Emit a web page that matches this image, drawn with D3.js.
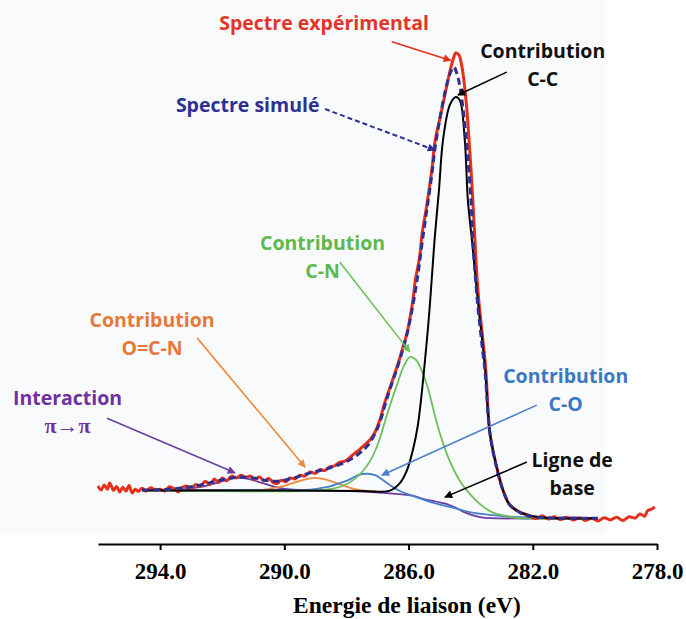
<!DOCTYPE html>
<html>
<head>
<meta charset="utf-8">
<script src="https://cdn.jsdelivr.net/npm/d3@7"></script>
<style>
  body { margin: 0; background: #fff; }
  .lbl { font-family: "Open Sans", sans-serif; font-weight: bold; font-size: 19.5px; }
  .x-axis text { font-family: "Liberation Serif", "Times New Roman", serif; font-weight: bold; font-size: 23px; fill: #000; }
  .x-title { font-family: "Liberation Serif", "Times New Roman", serif; font-weight: bold; font-size: 23.5px; }
</style>
</head>
<body>
<div id="xps-c1s"></div>
<script>
// binding energy (eV), intensity (a.u.)
var experimental = [
  [296.00, 7.3], [295.90, 6.4], [295.80, 7.5], [295.70, 6.6], [295.62, 7.9], [295.50, 6.3],
  [295.40, 7.2], [295.30, 6.0], [295.20, 7.0], [295.10, 6.2], [295.00, 7.4], [294.90, 5.8],
  [294.80, 6.6], [294.70, 6.1], [294.58, 6.8], [294.45, 6.2], [294.30, 6.9], [294.15, 6.4],
  [294.00, 6.6], [293.85, 6.2], [293.70, 7.1], [293.55, 6.7], [293.42, 6.0], [293.30, 6.9],
  [293.15, 7.3], [293.00, 6.8], [292.85, 7.6], [292.70, 7.2], [292.55, 8.3], [292.40, 7.6],
  [292.25, 8.8], [292.12, 8.0], [292.00, 9.0], [291.85, 8.4], [291.70, 9.4], [291.55, 9.0],
  [291.40, 9.6], [291.25, 9.1], [291.10, 9.4], [290.95, 8.7], [290.80, 9.2], [290.65, 8.4],
  [290.50, 8.9], [290.35, 8.0], [290.24, 7.8], [290.10, 8.5], [289.95, 8.2], [289.82, 9.0],
  [289.65, 8.8], [289.50, 9.6], [289.35, 9.4], [289.17, 10.3], [289.00, 10.0], [288.85, 10.8],
  [288.70, 10.6], [288.53, 11.4], [288.38, 11.6], [288.21, 12.4], [288.05, 12.6], [287.89, 13.4],
  [287.73, 14.3], [287.56, 15.2], [287.40, 16.2], [287.24, 17.2], [287.08, 18.8], [286.92, 21.5],
  [286.76, 25.3], [286.60, 28.3], [286.37, 32.8], [286.18, 37.0], [286.05, 40.0], [285.96, 43.0],
  [285.86, 47.1], [285.78, 51.5], [285.70, 54.2], [285.63, 57.0], [285.57, 61.0], [285.41, 67.5],
  [285.25, 75.0], [285.15, 81.0], [284.99, 86.0], [284.83, 91.0], [284.67, 96.0], [284.57, 98.5],
  [284.48, 100.0], [284.38, 99.6], [284.28, 97.0], [284.15, 89.9], [284.03, 79.2], [283.93, 68.5],
  [283.83, 55.7], [283.74, 47.1], [283.52, 32.8], [283.38, 18.6], [283.16, 11.3], [282.96, 6.4],
  [282.74, 3.2], [282.42, 1.7], [282.10, 0.9], [281.90, 0.3], [281.70, 0.9], [281.50, 0.2],
  [281.30, 0.7], [281.10, 0.1], [280.90, 0.6], [280.70, 0.0], [280.50, 0.5], [280.30, -0.1],
  [280.10, 0.4], [279.90, -0.2], [279.70, 0.5], [279.50, 0.0], [279.30, 0.6], [279.10, -0.1],
  [278.90, 0.7], [278.70, 0.4], [278.55, 1.3], [278.40, 0.8], [278.30, 2.0], [278.15, 2.4],
  [278.07, 2.8]
];

var simulated = [
  [294.58, 6.4], [294.00, 6.5], [293.50, 6.7], [293.00, 7.1], [292.50, 7.8], [292.00, 8.6],
  [291.49, 9.2], [291.00, 9.0], [290.60, 8.5], [290.24, 8.3], [289.82, 8.8], [289.50, 9.4],
  [289.17, 10.1], [288.85, 10.6], [288.53, 11.2], [288.21, 11.9], [287.89, 12.9], [287.56, 14.4],
  [287.31, 16.0], [287.08, 18.5], [286.92, 21.0], [286.76, 24.6], [286.60, 28.0], [286.37, 32.5],
  [286.18, 36.6], [286.05, 39.8], [285.86, 46.0], [285.70, 52.5], [285.57, 59.0], [285.41, 66.5],
  [285.25, 74.0], [285.15, 79.5], [284.99, 86.0], [284.83, 91.5], [284.67, 95.5], [284.54, 97.0],
  [284.44, 95.5], [284.35, 93.0], [284.28, 89.9], [284.15, 82.0], [283.99, 68.5], [283.93, 60.0],
  [283.80, 48.0], [283.61, 36.0], [283.54, 32.0], [283.38, 18.6], [283.16, 11.0], [282.96, 6.4],
  [282.74, 3.3], [282.42, 1.6], [282.10, 0.8], [281.50, 0.5], [280.50, 0.4], [279.91, 0.4]
];

var contribCC = [
  [294.58, 6.3], [290.00, 6.3], [287.50, 6.2], [286.60, 6.3], [286.28, 7.9], [286.05, 10.7],
  [285.86, 15.0], [285.70, 20.3], [285.38, 40.7], [285.15, 61.0], [285.02, 70.7], [284.89, 81.4],
  [284.67, 88.9], [284.48, 90.6], [284.35, 89.9], [284.19, 81.4], [284.09, 68.5], [283.96, 60.0],
  [283.77, 47.1], [283.54, 32.8], [283.38, 18.6], [283.16, 11.3], [282.96, 6.4], [282.74, 3.2],
  [282.42, 1.7], [281.77, 0.6], [279.91, 0.4]
];

var contribCN = [
  [294.58, 6.4], [289.50, 6.2], [288.53, 6.6], [288.05, 7.5], [287.73, 8.8], [287.47, 10.5],
  [287.24, 12.6], [287.05, 15.2], [286.89, 18.2], [286.73, 21.8], [286.54, 25.7], [286.34, 29.6],
  [286.15, 33.0], [285.96, 34.9], [285.76, 34.3], [285.57, 31.9], [285.38, 28.3], [285.22, 24.2],
  [285.06, 20.1], [284.89, 16.5], [284.73, 13.5], [284.54, 10.7], [284.32, 8.1], [284.03, 5.6],
  [283.70, 3.4], [283.32, 1.7], [282.90, 0.9], [282.42, 0.4], [279.91, 0.4]
];

var contribCO = [
  [294.58, 6.4], [289.50, 6.4], [289.17, 6.5], [288.85, 6.8], [288.53, 7.2], [288.21, 7.9],
  [287.89, 8.7], [287.63, 9.6], [287.31, 9.9], [287.08, 9.6], [286.92, 9.0], [286.60, 7.5],
  [286.28, 6.2], [285.96, 5.4], [285.31, 3.9], [284.67, 2.8], [284.03, 1.7], [283.38, 1.1],
  [282.42, 0.6], [279.91, 0.4]
];

var contribOCN = [
  [293.40, 6.3], [290.78, 6.4], [290.46, 6.7], [290.14, 7.1], [289.82, 7.7], [289.50, 8.4],
  [289.17, 8.9], [288.98, 9.0], [288.70, 8.7], [288.53, 8.4], [288.21, 7.7], [287.89, 6.9],
  [287.56, 6.4], [287.00, 6.1]
];

var interactionPiPi = [
  [294.58, 6.4], [293.80, 6.4], [293.20, 6.6], [292.60, 7.2], [292.10, 8.1], [291.80, 8.7],
  [291.49, 9.0], [291.10, 8.7], [290.70, 7.9], [290.30, 7.1], [289.90, 6.6], [289.40, 6.4]
];

var baseLine = [
  [294.58, 6.4], [292.00, 6.4], [290.00, 6.4], [288.50, 6.3], [287.50, 6.1], [286.60, 5.7],
  [285.86, 5.2], [285.54, 4.5], [284.77, 3.4], [284.44, 2.5], [284.25, 1.8], [283.70, 0.6],
  [283.38, 0.4], [279.91, 0.4]
];

var energyTicks = [294, 290, 286, 282, 278];

(function() {
  var outerWidth = 686,
      outerHeight = 619,
      axisY = 544;

  var svg = d3.select("#xps-c1s").append("svg")
      .attr("width", outerWidth)
      .attr("height", outerHeight);

  // binding energy axis runs right to left
  var x = d3.scaleLinear()
      .domain([296.0, 278.0])
      .range([98, 657]);

  var y = d3.scaleLinear()
      .domain([0, 100])
      .range([520, 53]);

  var line = d3.line()
      .x(d => x(d[0]))
      .y(d => y(d[1]))
      .curve(d3.curveCatmullRom.alpha(0.5));

  // pasted figure panel is slightly grey
  svg.append("rect")
      .attr("x", 0)
      .attr("y", 0)
      .attr("width", 607)
      .attr("height", 535)
      .attr("fill", "#f9fafb");

  var colors = {
    red: "#e5301c", navy: "#2e3192", black: "#000000", green: "#6dbf5a",
    orange: "#ee8a3e", blue: "#4a80c8", purple: "#6a3ea0"
  };

  var defs = svg.append("defs");
  Object.keys(colors).forEach(function(k) {
    defs.append("marker")
        .attr("id", "arrow-" + k)
        .attr("viewBox", "0 -5 10 10")
        .attr("refX", 9)
        .attr("refY", 0)
        .attr("markerUnits", "userSpaceOnUse")
        .attr("markerWidth", 9)
        .attr("markerHeight", 8)
        .attr("orient", "auto")
      .append("path")
        .attr("d", "M0,-5L10,0L0,5Z")
        .attr("fill", colors[k]);
  });

  var curves = svg.append("g").attr("fill", "none");

  var series = [
    { data: baseLine, color: colors.purple, w: 1.8 },
    { data: interactionPiPi, color: colors.purple, w: 1.8 },
    { data: contribOCN, color: colors.orange, w: 1.8 },
    { data: contribCO, color: colors.blue, w: 1.8 },
    { data: contribCN, color: colors.green, w: 1.8 },
    { data: experimental, color: colors.red, w: 3 },
    { data: contribCC, color: colors.black, w: 2 },
    { data: simulated, color: colors.navy, w: 3, dash: "7,4" }
  ];

  curves.selectAll("path")
      .data(series)
    .enter().append("path")
      .attr("d", d => line(d.data))
      .attr("stroke", d => d.color)
      .attr("stroke-width", d => d.w)
      .attr("stroke-dasharray", d => d.dash || null)
      .attr("stroke-linejoin", "round");

  // annotations: text lines + arrow, in data coordinates
  var notes = [
    { lines: ["Spectre expérimental"], color: "#e2352a", arrow: "red", at: [288.72, 104.9], from: [286.54, 102.4], to: [284.64, 98.4] },
    { lines: ["Contribution", "C-C"], color: "#111111", arrow: "black", at: [281.68, 98.9], from: [282.84, 95.9], to: [284.41, 91.0] },
    { lines: ["Spectre simulé"], color: "#2e3192", arrow: "navy", dash: "5,3", at: [291.18, 87.4], from: [288.69, 88.0], to: [285.15, 79.2] },
    { lines: ["Contribution", "C-N"], color: "#5db94a", arrow: "green", at: [288.77, 57.8], from: [288.21, 55.2], to: [285.96, 36.0] },
    { lines: ["Contribution", "O=C-N"], color: "#e5793a", arrow: "orange", at: [294.26, 41.3], from: [292.81, 39.0], to: [289.33, 11.3] },
    { lines: ["Interaction", "π→π"], color: "#7030a0", arrow: "purple", at: [296.98, 24.6], from: [295.71, 21.8], to: [291.59, 10.1] },
    { lines: ["Contribution", "C-O"], color: "#3a78c2", arrow: "blue", at: [280.94, 29.3], from: [281.87, 24.6], to: [286.86, 9.6] },
    { lines: ["Ligne de", "base"], color: "#111111", arrow: "black", at: [280.73, 11.3], from: [282.19, 12.4], to: [284.83, 4.9] }
  ];

  var ann = svg.append("g");

  notes.forEach(function(n) {
    ann.append("line")
        .attr("x1", x(n.from[0]))
        .attr("y1", y(n.from[1]))
        .attr("x2", x(n.to[0]))
        .attr("y2", y(n.to[1]))
        .attr("stroke", colors[n.arrow])
        .attr("stroke-width", n.dash ? 2 : 1.6)
        .attr("stroke-dasharray", n.dash || null)
        .attr("marker-end", "url(#arrow-" + n.arrow + ")");

    var t = ann.append("text")
        .attr("class", "lbl")
        .attr("text-anchor", "middle")
        .attr("fill", n.color);

    n.lines.forEach(function(s, i) {
      t.append("tspan")
          .attr("x", x(n.at[0]))
          .attr("y", y(n.at[1]) + i * 28)
          .style("font-family", s.indexOf("π") >= 0 ? "'Liberation Serif', serif" : null)
          .style("font-size", s.indexOf("π") >= 0 ? "22px" : null)
          .text(s);
    });
  });

  var xAxis = svg.append("g")
      .attr("class", "x-axis")
      .attr("transform", "translate(0," + axisY + ")")
      .call(d3.axisBottom(x)
        .tickValues(energyTicks)
        .tickFormat(d3.format(".1f"))
        .tickSize(6)
        .tickSizeOuter(0)
        .tickPadding(13));

  xAxis.select(".domain").attr("stroke-width", 2);
  xAxis.selectAll(".tick line").attr("stroke-width", 2);

  svg.append("text")
      .attr("class", "x-title")
      .attr("x", 407)
      .attr("y", 613)
      .attr("text-anchor", "middle")
      .text("Energie de liaison (eV)");
})();
</script>
</body>
</html>
